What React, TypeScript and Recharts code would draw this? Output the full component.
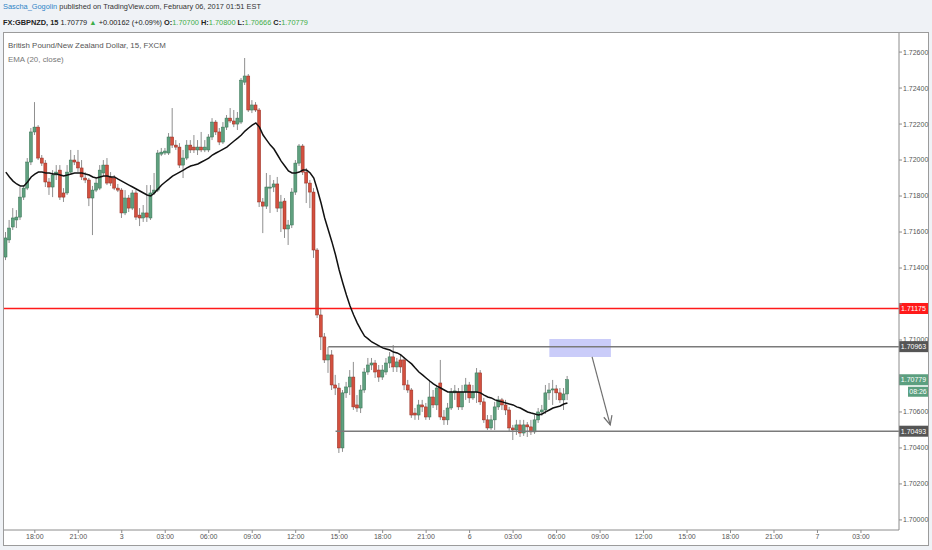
import React from 'react';
import { ComposedChart, Bar, Line, XAxis, YAxis, ReferenceLine, ReferenceArea } from 'recharts';

// ---- data (15-minute GBPNZD bars) ----
const opens = [
  1.71461, 1.71556, 1.71628, 1.71667, 1.71683, 1.71794, 1.71844, 1.71989, 1.72156, 1.72183,
  1.72011, 1.71983, 1.71878, 1.71850, 1.71917, 1.71944, 1.71817, 1.71817, 1.71933, 1.72000,
  1.71989, 1.71956, 1.71900, 1.71889, 1.71789, 1.71833, 1.71844, 1.71928, 1.71972, 1.71906,
  1.71900, 1.71844, 1.71833, 1.71706, 1.71789, 1.71733, 1.71817, 1.71694, 1.71678, 1.71706,
  1.71678, 1.71817, 1.71833, 1.72033, 1.72039, 1.72039, 1.72128, 1.72083, 1.72072, 1.71972,
  1.72011, 1.72083, 1.72072, 1.72056, 1.72072, 1.72056, 1.72056, 1.72128, 1.72211, 1.72156,
  1.72100, 1.72183, 1.72233, 1.72217, 1.72200, 1.72211, 1.72433, 1.72467, 1.72278, 1.72306,
  1.72278, 1.71767, 1.71744, 1.71844, 1.71850, 1.71867, 1.71733, 1.71772, 1.71617, 1.71639,
  1.71822, 1.71983, 1.72078, 1.71933, 1.71872, 1.71822, 1.71500, 1.71139, 1.71017, 1.70889,
  1.70917, 1.70750, 1.70733, 1.70400, 1.70706, 1.70739, 1.70794, 1.70639, 1.70622, 1.70722,
  1.70822, 1.70861, 1.70872, 1.70833, 1.70794, 1.70822, 1.70872, 1.70906, 1.70850, 1.70889,
  1.70889, 1.70750, 1.70722, 1.70594, 1.70583, 1.70639, 1.70628, 1.70572, 1.70683, 1.70639,
  1.70761, 1.70572, 1.70556, 1.70622, 1.70706, 1.70711, 1.70628, 1.70711, 1.70750, 1.70678,
  1.70711, 1.70817, 1.70656, 1.70556, 1.70511, 1.70556, 1.70628, 1.70667, 1.70639, 1.70611,
  1.70511, 1.70500, 1.70528, 1.70483, 1.70528, 1.70517, 1.70489, 1.70556, 1.70600, 1.70611,
  1.70706, 1.70722, 1.70728, 1.70706, 1.70667, 1.70700,
];
const highs = [
  1.71600, 1.71667, 1.71733, 1.71722, 1.71850, 1.71861, 1.72011, 1.72178, 1.72322, 1.72194,
  1.72028, 1.72000, 1.71900, 1.71944, 1.71972, 1.71972, 1.71844, 1.71972, 1.72056, 1.72028,
  1.72056, 1.72000, 1.71933, 1.71900, 1.71856, 1.71900, 1.71972, 1.72000, 1.72011, 1.71933,
  1.71917, 1.71867, 1.71844, 1.71833, 1.71806, 1.71833, 1.71833, 1.71733, 1.71750, 1.71861,
  1.71861, 1.71928, 1.72056, 1.72067, 1.72067, 1.72150, 1.72289, 1.72111, 1.72094, 1.72056,
  1.72111, 1.72111, 1.72139, 1.72111, 1.72156, 1.72111, 1.72144, 1.72233, 1.72222, 1.72178,
  1.72211, 1.72250, 1.72289, 1.72278, 1.72267, 1.72456, 1.72567, 1.72478, 1.72333, 1.72322,
  1.72289, 1.71789, 1.71928, 1.71917, 1.71889, 1.71906, 1.71806, 1.71789, 1.71667, 1.71844,
  1.72000, 1.72089, 1.72089, 1.71956, 1.71889, 1.71844, 1.71511, 1.71178, 1.71039, 1.70961,
  1.70944, 1.70806, 1.70761, 1.70722, 1.70767, 1.70833, 1.70878, 1.70694, 1.70750, 1.70844,
  1.70900, 1.70900, 1.70889, 1.70861, 1.70861, 1.70900, 1.70933, 1.70972, 1.70900, 1.70917,
  1.70906, 1.70778, 1.70733, 1.70622, 1.70667, 1.70667, 1.70650, 1.70778, 1.70722, 1.70750,
  1.70889, 1.70611, 1.70650, 1.70733, 1.70750, 1.70733, 1.70750, 1.70789, 1.70767, 1.70750,
  1.70844, 1.70833, 1.70678, 1.70583, 1.70583, 1.70656, 1.70689, 1.70678, 1.70667, 1.70628,
  1.70528, 1.70556, 1.70556, 1.70556, 1.70544, 1.70556, 1.70583, 1.70622, 1.70639, 1.70750,
  1.70761, 1.70778, 1.70750, 1.70733, 1.70733, 1.70800,
];
const lows = [
  1.71444, 1.71539, 1.71611, 1.71622, 1.71667, 1.71778, 1.71833, 1.71972, 1.72139, 1.72000,
  1.71967, 1.71850, 1.71806, 1.71794, 1.71889, 1.71778, 1.71767, 1.71806, 1.71917, 1.71972,
  1.71933, 1.71889, 1.71872, 1.71744, 1.71583, 1.71822, 1.71833, 1.71911, 1.71861, 1.71856,
  1.71833, 1.71822, 1.71678, 1.71694, 1.71711, 1.71722, 1.71667, 1.71633, 1.71656, 1.71656,
  1.71667, 1.71806, 1.71822, 1.72022, 1.72028, 1.72028, 1.72067, 1.72056, 1.71956, 1.71900,
  1.72000, 1.72039, 1.72039, 1.72028, 1.72044, 1.72044, 1.72044, 1.72111, 1.72139, 1.72083,
  1.72089, 1.72167, 1.72206, 1.72183, 1.72167, 1.72200, 1.72417, 1.72267, 1.72261, 1.72267,
  1.71739, 1.71594, 1.71728, 1.71706, 1.71822, 1.71711, 1.71600, 1.71567, 1.71528, 1.71622,
  1.71806, 1.71967, 1.71917, 1.71761, 1.71733, 1.71456, 1.71122, 1.70944, 1.70872, 1.70817,
  1.70722, 1.70694, 1.70372, 1.70378, 1.70678, 1.70694, 1.70611, 1.70600, 1.70594, 1.70706,
  1.70806, 1.70833, 1.70789, 1.70767, 1.70778, 1.70806, 1.70844, 1.70822, 1.70822, 1.70817,
  1.70722, 1.70706, 1.70567, 1.70556, 1.70556, 1.70600, 1.70556, 1.70556, 1.70622, 1.70611,
  1.70556, 1.70528, 1.70528, 1.70611, 1.70667, 1.70611, 1.70611, 1.70667, 1.70650, 1.70667,
  1.70650, 1.70639, 1.70539, 1.70500, 1.70500, 1.70500, 1.70611, 1.70611, 1.70583, 1.70489,
  1.70444, 1.70472, 1.70461, 1.70467, 1.70461, 1.70472, 1.70478, 1.70539, 1.70578, 1.70589,
  1.70667, 1.70639, 1.70667, 1.70650, 1.70611, 1.70666,
];
const closes = [
  1.71567, 1.71622, 1.71678, 1.71683, 1.71794, 1.71844, 1.71989, 1.72156, 1.72183, 1.72011,
  1.71983, 1.71878, 1.71850, 1.71917, 1.71933, 1.71794, 1.71794, 1.71933, 1.72000, 1.71989,
  1.71956, 1.71906, 1.71889, 1.71789, 1.71833, 1.71872, 1.71944, 1.71972, 1.71872, 1.71872,
  1.71844, 1.71833, 1.71706, 1.71789, 1.71733, 1.71817, 1.71683, 1.71678, 1.71706, 1.71683,
  1.71817, 1.71833, 1.72039, 1.72044, 1.72050, 1.72128, 1.72083, 1.72072, 1.71972, 1.72011,
  1.72083, 1.72056, 1.72056, 1.72072, 1.72056, 1.72072, 1.72128, 1.72211, 1.72156, 1.72100,
  1.72183, 1.72233, 1.72217, 1.72200, 1.72233, 1.72444, 1.72467, 1.72278, 1.72306, 1.72278,
  1.71767, 1.71744, 1.71850, 1.71850, 1.71867, 1.71733, 1.71767, 1.71617, 1.71639, 1.71822,
  1.71983, 1.72078, 1.71933, 1.71872, 1.71822, 1.71500, 1.71139, 1.71017, 1.70889, 1.70917,
  1.70750, 1.70733, 1.70400, 1.70706, 1.70739, 1.70794, 1.70628, 1.70622, 1.70722, 1.70822,
  1.70861, 1.70872, 1.70822, 1.70794, 1.70833, 1.70872, 1.70906, 1.70850, 1.70878, 1.70850,
  1.70750, 1.70722, 1.70583, 1.70583, 1.70639, 1.70628, 1.70572, 1.70683, 1.70639, 1.70733,
  1.70572, 1.70556, 1.70622, 1.70711, 1.70717, 1.70628, 1.70711, 1.70750, 1.70678, 1.70711,
  1.70817, 1.70656, 1.70556, 1.70511, 1.70556, 1.70628, 1.70667, 1.70639, 1.70611, 1.70511,
  1.70500, 1.70528, 1.70483, 1.70528, 1.70517, 1.70489, 1.70556, 1.70600, 1.70611, 1.70706,
  1.70722, 1.70728, 1.70706, 1.70667, 1.70700, 1.70779,
];
const ema20 = [
  1.71933, 1.71906, 1.71883, 1.71867, 1.71856, 1.71856, 1.71878, 1.71906, 1.71922, 1.71933,
  1.71933, 1.71928, 1.71928, 1.71922, 1.71922, 1.71917, 1.71911, 1.71917, 1.71922, 1.71928,
  1.71928, 1.71928, 1.71922, 1.71917, 1.71906, 1.71900, 1.71906, 1.71911, 1.71911, 1.71906,
  1.71906, 1.71894, 1.71883, 1.71872, 1.71861, 1.71850, 1.71839, 1.71828, 1.71817, 1.71806,
  1.71800, 1.71817, 1.71839, 1.71861, 1.71878, 1.71894, 1.71911, 1.71922, 1.71933, 1.71944,
  1.71956, 1.71967, 1.71972, 1.71978, 1.71989, 1.72000, 1.72011, 1.72028, 1.72039, 1.72050,
  1.72061, 1.72072, 1.72089, 1.72106, 1.72122, 1.72139, 1.72161, 1.72178, 1.72194, 1.72206,
  1.72183, 1.72139, 1.72111, 1.72083, 1.72061, 1.72028, 1.71994, 1.71967, 1.71939, 1.71928,
  1.71928, 1.71933, 1.71944, 1.71944, 1.71928, 1.71900, 1.71833, 1.71761, 1.71678, 1.71611,
  1.71545, 1.71472, 1.71389, 1.71317, 1.71250, 1.71189, 1.71139, 1.71094, 1.71056, 1.71022,
  1.71006, 1.70989, 1.70978, 1.70967, 1.70956, 1.70950, 1.70944, 1.70933, 1.70928, 1.70917,
  1.70900, 1.70883, 1.70867, 1.70844, 1.70822, 1.70806, 1.70789, 1.70772, 1.70756, 1.70744,
  1.70733, 1.70722, 1.70711, 1.70711, 1.70711, 1.70711, 1.70711, 1.70711, 1.70711, 1.70711,
  1.70711, 1.70706, 1.70694, 1.70683, 1.70678, 1.70667, 1.70661, 1.70656, 1.70650, 1.70644,
  1.70639, 1.70628, 1.70622, 1.70611, 1.70600, 1.70594, 1.70589, 1.70583, 1.70589, 1.70600,
  1.70611, 1.70622, 1.70628, 1.70633, 1.70644, 1.70650,
];
const timeLabels = [
  '18:00', '21:00', '3', '03:00', '06:00', '09:00', '12:00', '15:00', '18:00', '21:00',
  '6', '03:00', '06:00', '09:00', '12:00', '15:00', '18:00', '21:00', '7', '03:00',
];
const priceTicks = [
  1.70000, 1.70200, 1.70400, 1.70600, 1.70800, 1.71000, 1.71200,
  1.71400, 1.71600, 1.71800, 1.72000, 1.72200, 1.72400, 1.72600,
];

// drawn levels and annotations (price values)
const redLevel = 1.71175;
const resistanceLevel = 1.70963;
const supportLevel = 1.70493;
const lastPrice = 1.70779;
const countdown = '08:26';
const zone = { x1: 150, x2: 167, y1: 1.70906, y2: 1.71006 };
const arrow = { x1: 161.8, y1: 1.70906, x2: 166.8, y2: 1.70528 };
const resistanceStart = 89;
const supportStart = 91;

const SLOTS = 247; // bar slots incl. empty future area
const FIRST_LABEL_SLOT = 8;
const LABEL_STEP = 12;

const labelSlots = timeLabels.map((_, k) => FIRST_LABEL_SLOT + k * LABEL_STEP);
const labelBySlot: Record<number, string> = {};
labelSlots.forEach((s, k) => { labelBySlot[s] = timeLabels[k]; });

const data = Array.from({ length: SLOTS }, (_, i) => {
  if (i < opens.length) {
    return { i, range: [lows[i], highs[i]], open: opens[i], close: closes[i], ema: ema20[i] };
  }
  return { i, range: null, open: null, close: null, ema: null };
});

const UP = '#5fa07f';
const UP_BORDER = '#357252';
const DOWN = '#d3503f';
const DOWN_BORDER = '#932c20';
const WICK = '#8f8f8f';
const FONT = '"Liberation Sans", Arial, sans-serif';

// price levels whose tag hides the axis label underneath (as on the reference)
const taggedPrices = [redLevel, lastPrice];

const Candle = (props: any) => {
  const { x, y, width, height, payload } = props;
  if (!payload || !payload.range) return null;
  const [lo, hi] = payload.range;
  const top = Math.min(y, y + height);
  const h = Math.abs(height);
  const k = hi === lo ? 0 : h / (hi - lo);
  const yO = top + (hi - payload.open) * k;
  const yC = top + (hi - payload.close) * k;
  const up = payload.close >= payload.open;
  const bTop = Math.min(yO, yC);
  const bH = Math.max(1, Math.abs(yO - yC));
  const cx = x + width / 2;
  return (
    <g>
      <line x1={cx} x2={cx} y1={top} y2={top + h} stroke={WICK} strokeWidth={1} />
      <rect
        x={x}
        y={bTop}
        width={width}
        height={bH}
        fill={up ? UP : DOWN}
        stroke={up ? UP_BORDER : DOWN_BORDER}
        strokeWidth={0.5}
      />
    </g>
  );
};

const PriceTick = (props: any) => {
  const { x, y, payload } = props;
  const v = payload?.value;
  if (typeof v !== 'number') return null;
  if (taggedPrices.some((p) => Math.abs(p - v) < 0.0003)) return null;
  return (
    <text x={x} y={y} dy="0.35em" textAnchor="start" fontSize={7} fill="#555" fontFamily={FONT}>
      {v.toFixed(5)}
    </text>
  );
};

const PriceTag = (props: any) => {
  const { viewBox, text, bg, sub } = props;
  if (!viewBox) return null;
  const x = viewBox.x + viewBox.width;
  const y = viewBox.y;
  return (
    <g>
      <rect x={x} y={y - 5.5} width={29} height={11} fill={bg} />
      <text x={x + 14.5} y={y} dy="0.35em" textAnchor="middle" fontSize={7} fill="#ffffff" fontFamily={FONT}>
        {text}
      </text>
      {sub ? (
        <g>
          <rect x={x + 9} y={y + 7} width={20} height={10} fill={bg} />
          <text x={x + 19} y={y + 12} dy="0.35em" textAnchor="middle" fontSize={7} fill="#ffffff" fontFamily={FONT}>
            {sub}
          </text>
        </g>
      ) : null}
    </g>
  );
};

const ArrowShape = (props: any) => {
  const { x1, y1, x2, y2 } = props;
  if ([x1, y1, x2, y2].some((v) => typeof v !== 'number')) return null;
  const dx = x1 - x2;
  const dy = y1 - y2;
  const len = Math.sqrt(dx * dx + dy * dy) || 1;
  const ux = dx / len;
  const uy = dy / len;
  const a = (25 * Math.PI) / 180;
  const L = 10;
  const hx1 = x2 + L * (ux * Math.cos(a) - uy * Math.sin(a));
  const hy1 = y2 + L * (ux * Math.sin(a) + uy * Math.cos(a));
  const hx2 = x2 + L * (ux * Math.cos(a) + uy * Math.sin(a));
  const hy2 = y2 + L * (-ux * Math.sin(a) + uy * Math.cos(a));
  return (
    <g stroke="#707070" strokeWidth={1.2} fill="none">
      <line x1={x1} y1={y1} x2={x2} y2={y2} />
      <polyline points={`${hx1},${hy1} ${x2},${y2} ${hx2},${hy2}`} />
    </g>
  );
};

const green = '#3fae49';

export default function App() {
  return (
    <div style={{ position: 'absolute', left: 0, top: 0, width: 932, height: 550, background: '#eff2f6', overflow: 'hidden', fontFamily: FONT }}>
      <div style={{ position: 'absolute', left: 3, top: 2, fontSize: 7.4, color: '#333', whiteSpace: 'nowrap' }}>
        <span style={{ color: '#2e84c6' }}>Sascha_Gogolin</span> published on TradingView.com, February 06, 2017 01:51 EST
      </div>
      <div style={{ position: 'absolute', left: 3, top: 18, fontSize: 7.4, color: '#222', whiteSpace: 'nowrap' }}>
        <b>FX:GBPNZD, 15</b> 1.70779 <span style={{ color: green }}>▲</span> +0.00162 (+0.09%){' '}
        <b>O:</b><span style={{ color: green }}>1.70700</span> <b>H:</b><span style={{ color: green }}>1.70800</span>{' '}
        <b>L:</b><span style={{ color: green }}>1.70666</span> <b>C:</b><span style={{ color: green }}>1.70779</span>
      </div>
      <div style={{ position: 'absolute', left: 3, top: 32, width: 926, height: 514, boxSizing: 'border-box', border: '1px solid #9b9b9b', background: '#ffffff' }} />
      <div style={{ position: 'absolute', left: 0, top: 0 }}>
        <ComposedChart width={932} height={550} data={data} margin={{ top: 33, right: 4, bottom: 6, left: 4 }}>
          <XAxis
            dataKey="i"
            type="number"
            domain={[-0.5, SLOTS - 0.5]}
            ticks={labelSlots}
            interval={0}
            tickFormatter={(v: number) => labelBySlot[v] ?? ''}
            height={14}
            tickSize={3}
            tickMargin={1}
            axisLine={{ stroke: '#8c8c8c' }}
            tickLine={{ stroke: '#8c8c8c' }}
            tick={{ fontSize: 7, fill: '#555', fontFamily: FONT }}
            allowDataOverflow
          />
          <YAxis
            orientation="right"
            type="number"
            domain={[1.69944, 1.72706]}
            ticks={priceTicks}
            interval={0}
            allowDataOverflow
            width={29}
            tickSize={3}
            tickMargin={1}
            axisLine={{ stroke: '#8c8c8c' }}
            tickLine={{ stroke: '#8c8c8c' }}
            tick={<PriceTick />}
          />
          <ReferenceLine y={redLevel} stroke="#ff1a1a" strokeWidth={1.5} label={<PriceTag text={redLevel.toFixed(5)} bg="#ff1a1a" />} />
          <ReferenceLine
            segment={[{ x: resistanceStart, y: resistanceLevel }, { x: SLOTS - 0.5, y: resistanceLevel }]}
            stroke="#7a7a7a"
            strokeWidth={1.5}
          />
          <ReferenceLine
            segment={[{ x: supportStart, y: supportLevel }, { x: SLOTS - 0.5, y: supportLevel }]}
            stroke="#7a7a7a"
            strokeWidth={1.5}
          />
          <Bar dataKey="range" barSize={3} shape={<Candle />} isAnimationActive={false} />
          <Line type="linear" dataKey="ema" stroke="#111" strokeWidth={1.5} dot={false} activeDot={false} isAnimationActive={false} />
          <ReferenceArea x1={zone.x1} x2={zone.x2} y1={zone.y1} y2={zone.y2} fill="#7b7ff0" fillOpacity={0.4} stroke="none" />
          <ReferenceLine segment={[{ x: arrow.x1, y: arrow.y1 }, { x: arrow.x2, y: arrow.y2 }]} shape={<ArrowShape />} />
          <ReferenceLine y={resistanceLevel} stroke="none" strokeOpacity={0} label={<PriceTag text={resistanceLevel.toFixed(5)} bg="#555555" />} />
          <ReferenceLine y={supportLevel} stroke="none" strokeOpacity={0} label={<PriceTag text={supportLevel.toFixed(5)} bg="#555555" />} />
          <ReferenceLine y={lastPrice} stroke="none" strokeOpacity={0} label={<PriceTag text={lastPrice.toFixed(5)} bg="#5b9f7f" sub={countdown} />} />
        </ComposedChart>
      </div>
      <div style={{ position: 'absolute', left: 8, top: 41, fontSize: 7.9, color: '#555', whiteSpace: 'nowrap' }}>
        British Pound/New Zealand Dollar, 15, FXCM
      </div>
      <div style={{ position: 'absolute', left: 8, top: 55, fontSize: 7.9, color: '#777', whiteSpace: 'nowrap' }}>
        EMA (20, close)
      </div>
    </div>
  );
}
